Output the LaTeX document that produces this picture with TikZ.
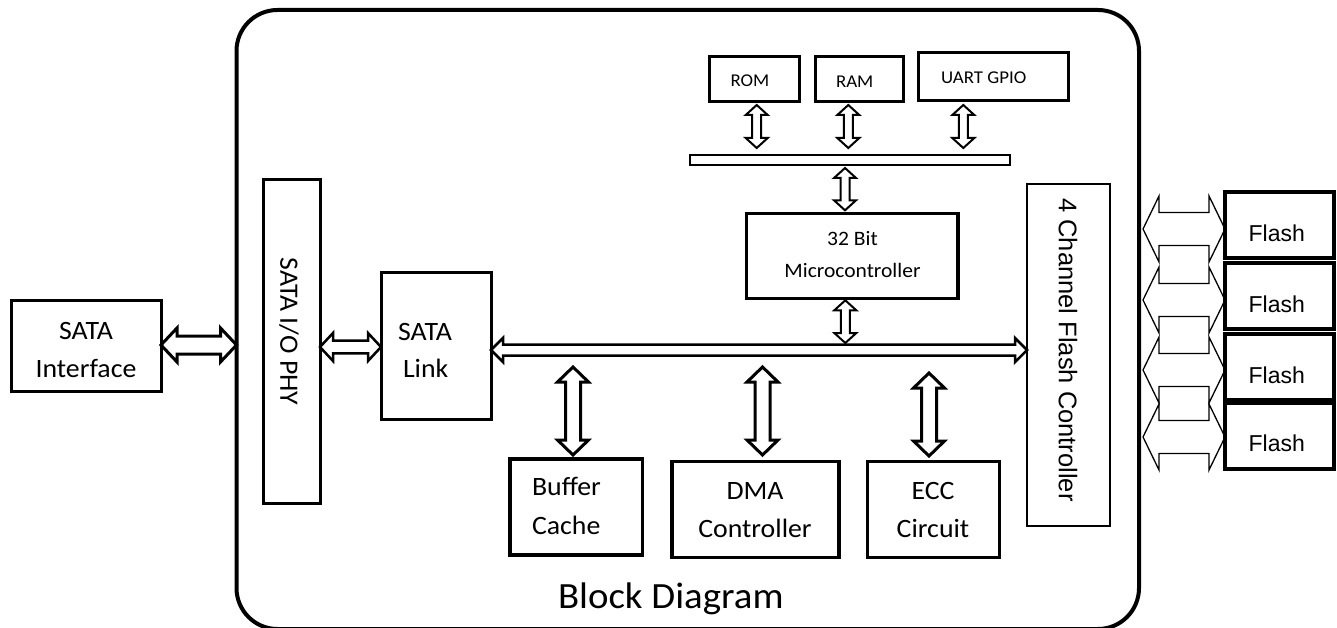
\documentclass[tikz,border=0pt]{standalone}
\usepackage{fontspec}
\setmainfont{Carlito}[FakeStretch=1.05]
\newfontfamily\arialf{Liberation Sans}
\usetikzlibrary{calc}
\tikzset{
  box/.style={draw, line width=3pt, outer sep=0pt, inner sep=0pt},
  txt/.style={inner sep=0pt, outer sep=0pt, anchor=base},
  harr/.style n args={3}{to path={let \p1=(\tikztostart), \p2=(\tikztotarget) in
    (\x1,\y1) -- (\x1+#3,\y1+#2) -- (\x1+#3,\y1+#1) -- (\x2-#3,\y1+#1) -- (\x2-#3,\y1+#2) -- (\x2,\y1)
    -- (\x2-#3,\y1-#2) -- (\x2-#3,\y1-#1) -- (\x1+#3,\y1-#1) -- (\x1+#3,\y1-#2) -- cycle}},
  varr/.style n args={3}{to path={let \p1=(\tikztostart), \p2=(\tikztotarget) in
    (\x1,\y1) -- (\x1+#2,\y1-#3) -- (\x1+#1,\y1-#3) -- (\x1+#1,\y2+#3) -- (\x1+#2,\y2+#3) -- (\x1,\y2)
    -- (\x1-#2,\y2+#3) -- (\x1-#1,\y2+#3) -- (\x1-#1,\y1-#3) -- (\x1-#2,\y1-#3) -- cycle}},
  bigh/.style={draw, fill=white, line width=3pt, line join=miter, harr={9pt}{17pt}{16pt}},
  midh/.style={draw, fill=white, line width=2.5pt, line join=miter, harr={6.3pt}{14pt}{13pt}},
  bush/.style={draw, fill=white, line width=2.5pt, line join=miter, harr={5.5pt}{12pt}{12pt}},
  bigv/.style={draw, fill=white, line width=3pt, line join=miter, varr={7.5pt}{15.5pt}{15pt}},
  smv/.style={draw, fill=white, line width=2pt, line join=miter, varr={4.5pt}{11pt}{10pt}},
  flh/.style={draw, line width=1.3pt, line join=miter, harr={16.5pt}{33pt}{16pt}},
  cal/.style={font=\fontsize{26.5}{30}\selectfont},
  small/.style={font=\fontsize{18}{22}\selectfont},
  arl/.style={font=\arialf\fontsize{23}{27}\selectfont},
}
\begin{document}
\begin{tikzpicture}[x=1pt,y=-1pt]
\useasboundingbox (0,0) rectangle (1337,628);
% outer board
\node[box, line width=4pt, rounded corners=41pt, minimum width=902.5, minimum height=619] (board) at (687.75,319.5) {};
% boxes
\node[box, minimum width=150, minimum height=91] (sif) at (86,345.5) {};
\node[box, minimum width=57, minimum height=323] (phy) at (291.5,341.5) {};
\node[box, minimum width=110, minimum height=147] (link) at (436,345.5) {};
\node[box, line width=2.5pt, minimum width=83, minimum height=342] (fc) at (1068.5,355) {};
\node[box, minimum width=90, minimum height=45] (rom) at (754,79.5) {};
\node[box, minimum width=88, minimum height=45] (ram) at (859,79.5) {};
\node[box, minimum width=150, minimum height=48] (uart) at (993,77) {};
\node[box, line width=2pt, minimum width=320, minimum height=10] (bar) at (850,160) {};
\node[box, line width=3.5pt, minimum width=211.3, minimum height=85] (mcu) at (852.3,255.8) {};
\node[box, line width=3.5pt, minimum width=132.7, minimum height=96] (buf) at (576.3,507) {};
\node[box, line width=3.5pt, minimum width=167, minimum height=95.6] (dma) at (755.5,509.5) {};
\node[box, line width=3.5pt, minimum width=131.6, minimum height=95.6] (ecc) at (933.5,509.5) {};
\node[box, line width=3.5pt, minimum width=109, minimum height=66] (fl1) at (1279.5,225) {};
\node[box, line width=3.5pt, minimum width=109, minimum height=66] (fl2) at (1279.5,296) {};
\node[box, line width=3.5pt, minimum width=109, minimum height=66] (fl3) at (1279.5,367) {};
\node[box, line width=3.5pt, minimum width=109, minimum height=66] (fl4) at (1279.5,436) {};
% texts
\node[txt, cal] (sifA) at (86,339) {SATA};
\node[txt, cal] (sifB) at (86,377) {Interface};
\node[inner sep=0pt, rotate=-90, cal] (phyT) at (289,331.5) {SATA I/O PHY};
\node[txt, cal, anchor=base west] (linkA) at (398,340) {SATA};
\node[txt, cal, anchor=base west] (linkB) at (403,377) {Link};
\node[txt, small] (romT) at (750,86.7) {ROM};
\node[txt, small] (ramT) at (854.7,87.7) {RAM};
\node[txt, small] (uartT) at (983.8,83.3) {UART GPIO};
\node[txt, font=\fontsize{20.5}{24}\selectfont] (mcuA) at (852.5,246) {32 Bit};
\node[txt, font=\fontsize{20.5}{24}\selectfont] (mcuB) at (852.5,277) {Microcontroller};
\node[txt, cal, anchor=base west] (bufA) at (532,495) {Buffer};
\node[txt, cal, anchor=base west] (bufB) at (532,534) {Cache};
\node[txt, cal] (dmaA) at (755,499) {DMA};
\node[txt, cal] (dmaB) at (755,537) {Controller};
\node[txt, cal] (eccA) at (933,499) {ECC};
\node[txt, cal] (eccB) at (933,537) {Circuit};
\node[txt, font=\fontsize{37}{40}\selectfont] (title) at (670.8,608) {Block Diagram};
\node[inner sep=0pt, rotate=-90, font=\arialf\fontsize{25.5}{30}\selectfont] (fcT) at (1068,350) {4 Channel Flash Controller};
\node[txt, arl] (fl1T) at (1276.7,241.7) {Flash};
\node[txt, arl] (fl2T) at (1276.7,312.7) {Flash};
\node[txt, arl] (fl3T) at (1276.7,383.3) {Flash};
\node[txt, arl] (fl4T) at (1276.7,451.7) {Flash};
% coordinates
\coordinate (busc) at (0,350);
\coordinate (sifc) at (0,345);
\coordinate (phyc) at (0,347);
\coordinate (fa1) at (1143,229);
\coordinate (fa2) at (1143,300);
\coordinate (fa3) at (1143,370);
\coordinate (fa4) at (1143,437);
% connectors
\draw[bigh] (sif.east |- sifc) to (board.west |- sifc);
\draw[midh] (phy.east |- phyc) to (link.west |- phyc);
\draw[bush] (link.east |- busc) to (fc.west |- busc);
\draw[smv] ($(rom.south)+(2.7,3)$) to ($(rom.south |- bar.north)+(2.7,-7)$);
\draw[smv] ($(ram.south)+(-10.7,3)$) to ($(ram.south |- bar.north)+(-10.7,-7)$);
\draw[smv] ($(uart.south)+(-29.7,4)$) to ($(uart.south |- bar.north)+(-29.7,-7)$);
\draw[smv] ($(bar.south)+(-5,3)$) to ($(mcu.north)+(-7,-3)$);
\draw[smv] ($(mcu.south)+(-7,2)$) to ($(mcu.south |- busc)+(-7,-7)$);
\draw[bigv] ($(buf.north |- busc)+(-3.3,17)$) to ($(buf.north)+(-3.3,-4)$);
\draw[bigv] ($(dma.north |- busc)+(7,17)$) to ($(dma.north)+(7,-6.7)$);
\draw[bigv] ($(ecc.north |- busc)+(-4.5,23)$) to ($(ecc.north)+(-4.5,-5.7)$);
\draw[flh] (fa1) to (fl1.west |- fa1);
\draw[flh] (fa2) to (fl2.west |- fa2);
\draw[flh] (fa3) to (fl3.west |- fa3);
\draw[flh] (fa4) to (fl4.west |- fa4);
\end{tikzpicture}
\end{document}
